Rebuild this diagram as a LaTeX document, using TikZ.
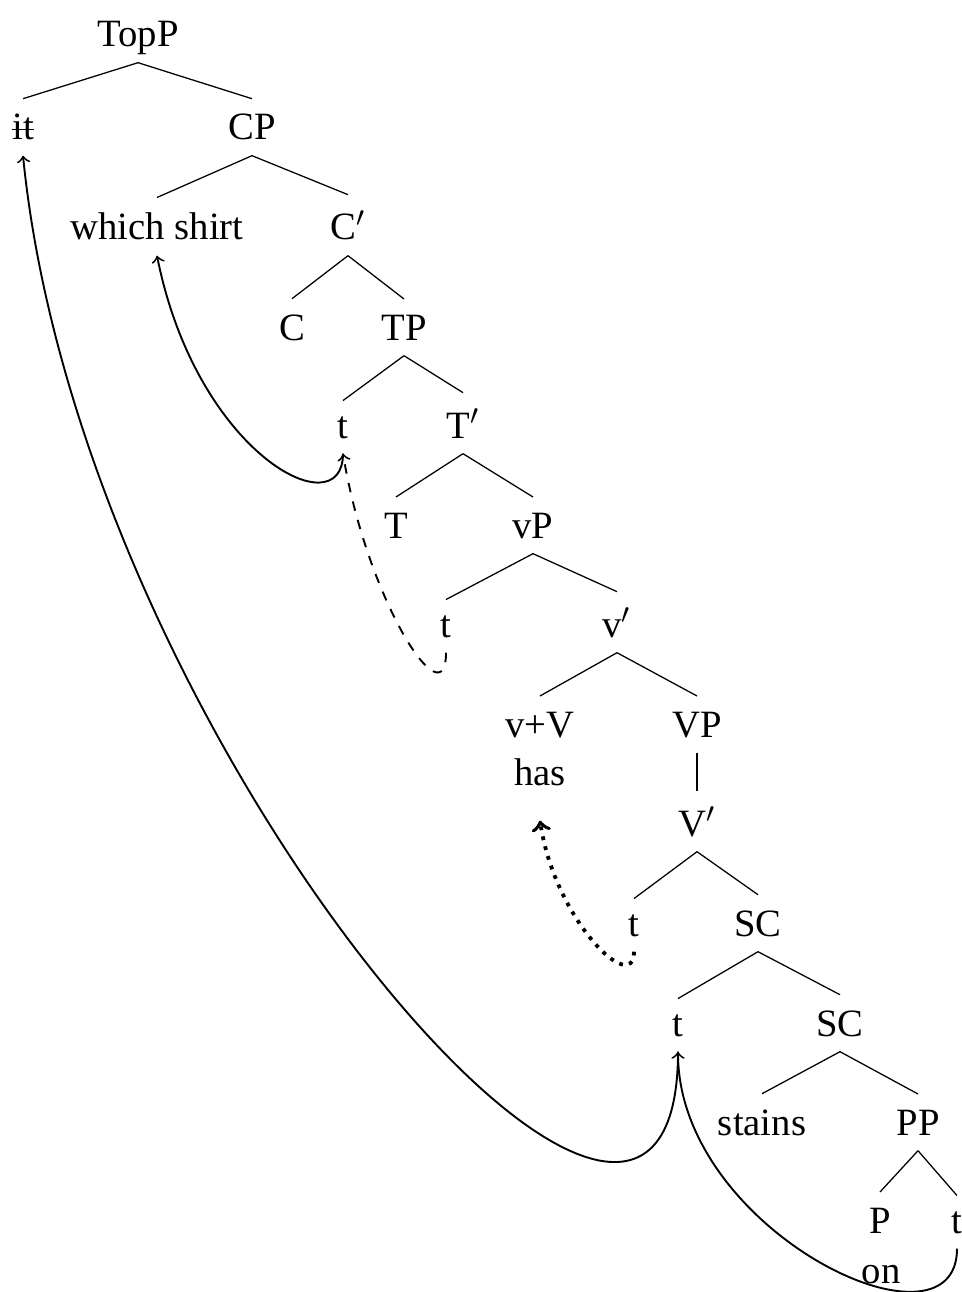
\documentclass[tikz,border=0pt]{standalone}
\usepackage{fontspec}
\setmainfont{Liberation Serif}
\begin{document}
\begin{tikzpicture}[x=0.3155pt,y=-0.3155pt,
  lbl/.style={anchor=base,inner xsep=0pt,inner ysep=4.75pt,text depth=0pt,font=\fontsize{12.2}{14}\selectfont},
  edge/.style={line width=0.4pt},
  mv/.style={->,semithick}]
\useasboundingbox (0,0) rectangle (961,1292);
\node[lbl] (top) at (138,47) {TopP};
\node[lbl] (it) at (23,140) {it};
\node[lbl] (cp) at (252,140) {CP};
\node[lbl] (ws) at (157,240) {which shirt};
\node[lbl] (cbar) at (348,240) {C$'$};
\node[lbl] (c) at (292,340) {C};
\node[lbl] (tp) at (404,340) {TP};
\node[lbl] (t1) at (343,438) {t};
\node[lbl] (tbar) at (463,438) {T$'$};
\node[lbl] (T) at (396,538) {T};
\node[lbl] (vp) at (533,538) {vP};
\node[lbl] (t2) at (446,637) {t};
\node[lbl] (vbar) at (617,637) {v$'$};
\node[lbl] (vv) at (540,737) {v+V};
\node[lbl] (has) at (540,785) {has};
\node[lbl] (VP) at (697,737) {VP};
\node[lbl] (Vbar) at (697,836) {V$'$};
\node[lbl] (t3) at (634,936) {t};
\node[lbl] (sc1) at (758,936) {SC};
\node[lbl] (t4) at (678,1036) {t};
\node[lbl] (sc2) at (840,1036) {SC};
\node[lbl] (stains) at (762,1135) {stains};
\node[lbl] (pp) at (918,1135) {PP};
\node[lbl] (p) at (880,1233) {P};
\node[lbl] (on) at (881,1283) {on};
\node[lbl] (t5) at (957,1233) {t};
% strike-through of "it"
\draw[edge] ([yshift=3.2pt]it.base west) -- ([yshift=3.2pt]it.base east);
% tree edges
\draw[edge] (top.south) -- (it.north);
\draw[edge] (top.south) -- (cp.north);
\draw[edge] (cp.south) -- (ws.north);
\draw[edge] (cp.south) -- (cbar.north);
\draw[edge] (cbar.south) -- (c.north);
\draw[edge] (cbar.south) -- (tp.north);
\draw[edge] (tp.south) -- (t1.north);
\draw[edge] (tp.south) -- (tbar.north);
\draw[edge] (tbar.south) -- (T.north);
\draw[edge] (tbar.south) -- (vp.north);
\draw[edge] (vp.south) -- (t2.north);
\draw[edge] (vp.south) -- (vbar.north);
\draw[edge] (vbar.south) -- (vv.north);
\draw[edge] (vbar.south) -- (VP.north);
\draw[edge] (VP.south) -- (Vbar.north);
\draw[edge] (Vbar.south) -- (t3.north);
\draw[edge] (Vbar.south) -- (sc1.north);
\draw[edge] (sc1.south) -- (t4.north);
\draw[edge] (sc1.south) -- (sc2.north);
\draw[edge] (sc2.south) -- (stains.north);
\draw[edge] (sc2.south) -- (pp.north);
\draw[edge] (pp.south) -- (p.north);
\draw[edge] (pp.south) -- (t5.north);
% movement arrows
\draw[mv] (t1.south) .. controls +(0,75) and +(40,200) .. (ws.south);
\draw[mv,dashed] (t2.south) .. controls +(0,68) and +(25,150) .. (t1.south);
\draw[->,very thick,dotted] (t3.south) .. controls +(0,45) and +(15,100) .. ([yshift=-6.3pt]has.south);
\draw[mv] (t4.south) .. controls +(0,380) and +(60,600) .. (it.south);
\draw[mv] (t5.south) .. controls +(0,115) and +(0,180) .. (t4.south);
\end{tikzpicture}
\end{document}
